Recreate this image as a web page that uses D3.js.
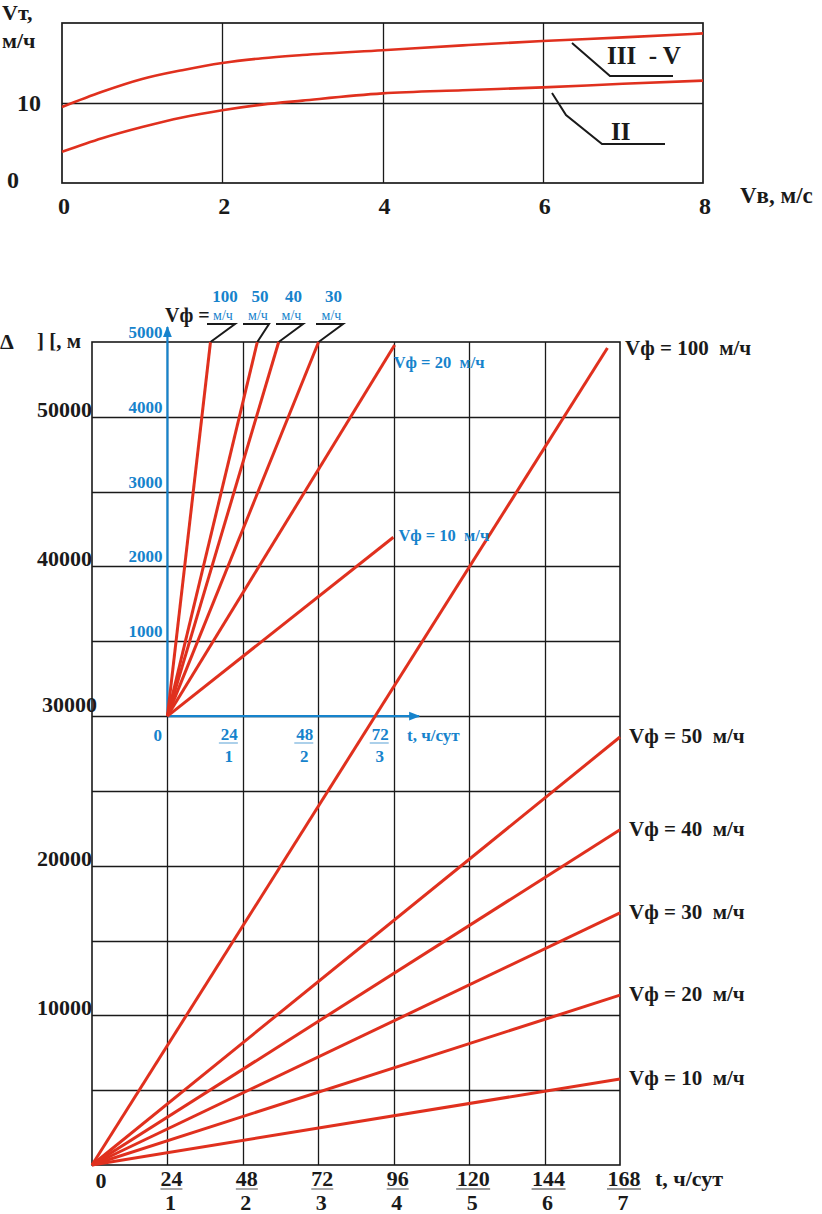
<!DOCTYPE html>
<html>
<head>
<meta charset="utf-8">
<script src="https://cdn.jsdelivr.net/npm/d3@7/dist/d3.min.js"></script>
<style>
  body { margin: 0; background: #fff; }
  svg { display: block; font-family: "Liberation Serif", "DejaVu Serif", serif; font-weight: bold; }
</style>
</head>
<body>
<div id="chart"></div>
<script>
// верхний график: Vт от Vв
var windSpeed = [0, 0.5, 1, 1.5, 2, 2.5, 3, 4, 5, 6, 7, 8];
var curveIIItoV = [9.5, 11.4, 13.0, 14.1, 15.0, 15.6, 16.0, 16.6, 17.2, 17.75, 18.2, 18.7];
var curveII = [3.9, 5.6, 7.0, 8.2, 9.1, 9.8, 10.3, 11.2, 11.6, 11.95, 12.4, 12.8];
var topXTicks = [0, 2, 4, 6, 8];
var topYTicks = [0, 10];

// нижний график: ΔL от t
var speeds = [100, 50, 40, 30, 20, 10];
var mainEndT = [164, 168, 168, 168, 168, 168];
var mainEndL = [54600, 28600, 22400, 16850, 11350, 5750];
var mainXTicks = [24, 48, 72, 96, 120, 144, 168];
var mainDays = [1, 2, 3, 4, 5, 6, 7];
var mainYTicks = [10000, 20000, 30000, 40000, 50000];

// врезка (увеличенный масштаб)
var insetEndT = [13.7, 28.6, 35.4, 48.1, 72.3, 71.9];
var insetEndL = [5000, 5000, 5000, 5000, 4960, 2390];
var insetXTicks = [24, 48, 72];
var insetDays = [1, 2, 3];
var insetYTicks = [1000, 2000, 3000, 4000, 5000];

(function() {
var red = "#e0301e", blue = "#1683cc", black = "#1a1a1a";
// привязка тонких линий к пикселю
var px = function(v) { return Math.round(v) + 0.5; };

var svg = d3.select("#chart").append("svg")
  .attr("width", 822).attr("height", 1214);

var defs = svg.append("defs");
defs.append("marker").attr("id", "arrow")
  .attr("viewBox", "0 0 10 10").attr("refX", 9).attr("refY", 5)
  .attr("markerWidth", 5).attr("markerHeight", 5).attr("orient", "auto")
  .append("path").attr("d", "M0,1L10,5L0,9Z").attr("fill", blue);

//------------------ верхний график
var xT = d3.scaleLinear().domain([0, 8]).range([62, 703]),
  yT = d3.scaleLinear().domain([0, 20]).range([183, 23]);

var upper = svg.append("g");
upper.selectAll(".vgrid").data([2, 4, 6]).enter().append("line")
  .attr("x1", function(d) { return px(xT(d)); }).attr("x2", function(d) { return px(xT(d)); })
  .attr("y1", yT(0)).attr("y2", yT(20))
  .attr("stroke", black).attr("stroke-width", 1.3);
upper.append("line").attr("x1", xT(0)).attr("x2", xT(8))
  .attr("y1", px(yT(10))).attr("y2", px(yT(10)))
  .attr("stroke", black).attr("stroke-width", 1.3);
upper.append("rect").attr("x", xT(0)).attr("y", yT(20))
  .attr("width", xT(8) - xT(0)).attr("height", yT(0) - yT(20))
  .attr("fill", "none").attr("stroke", black).attr("stroke-width", 1.7);

var topLine = d3.line().curve(d3.curveMonotoneX)
  .x(function(d) { return xT(d[0]); }).y(function(d) { return yT(d[1]); });
[curveIIItoV, curveII].forEach(function(c) {
  upper.append("path").attr("d", topLine(d3.zip(windSpeed, c)))
    .attr("fill", "none").attr("stroke", red).attr("stroke-width", 2.6);
});

upper.selectAll(".xl").data(topXTicks).enter().append("text")
  .attr("x", function(d) { return xT(d) + 2; }).attr("y", 214)
  .attr("text-anchor", "middle").attr("font-size", 24).attr("fill", black)
  .text(function(d) { return d; });
upper.append("text").attr("x", 41).attr("y", yT(10) + 8).attr("text-anchor", "end")
  .attr("font-size", 24).attr("fill", black).text("10");
upper.append("text").attr("x", 7).attr("y", yT(0) + 5)
  .attr("font-size", 24).attr("fill", black).text("0");
upper.append("text").attr("x", 2).attr("y", 20).attr("font-size", 22).attr("fill", black)
  .text("Vт,");
upper.append("text").attr("x", 2).attr("y", 48).attr("font-size", 22).attr("fill", black)
  .text("м/ч");
upper.append("text").attr("x", 740).attr("y", 203).attr("font-size", 23).attr("fill", black)
  .text("Vв, м/с");

// выноски III - V и II
var callout = d3.line();
upper.append("path").attr("d", callout([[572, 43], [610, 76], [673, 76]]))
  .attr("fill", "none").attr("stroke", black).attr("stroke-width", 2);
upper.append("path").attr("d", callout([[552, 93], [566, 115], [602, 144], [665, 144]]))
  .attr("fill", "none").attr("stroke", black).attr("stroke-width", 2);
upper.append("text").attr("x", 607).attr("y", 64).attr("font-size", 25).attr("fill", black)
  .attr("xml:space", "preserve").text("III  - V");
upper.append("text").attr("x", 611).attr("y", 140).attr("font-size", 25).attr("fill", black)
  .text("II");

//------------------ нижний график
var xB = d3.scaleLinear().domain([0, 168]).range([92, 620]),
  yB = d3.scaleLinear().domain([0, 55000]).range([1165, 342]);

var grid = svg.append("g");
grid.selectAll(".vg").data(d3.range(24, 168, 24)).enter().append("line")
  .attr("x1", function(d) { return px(xB(d)); }).attr("x2", function(d) { return px(xB(d)); })
  .attr("y1", yB(0)).attr("y2", yB(55000))
  .attr("stroke", black).attr("stroke-width", 1.3);
grid.selectAll(".hg").data(d3.range(5000, 55000, 5000)).enter().append("line")
  .attr("x1", xB(0)).attr("x2", xB(168))
  .attr("y1", function(d) { return px(yB(d)); }).attr("y2", function(d) { return px(yB(d)); })
  .attr("stroke", black).attr("stroke-width", 1.3);
grid.append("rect").attr("x", xB(0)).attr("y", yB(55000))
  .attr("width", xB(168) - xB(0)).attr("height", yB(0) - yB(55000))
  .attr("fill", "none").attr("stroke", black).attr("stroke-width", 1.6);

// врезка: оси
var xI = d3.scaleLinear().domain([0, 168]).range([xB(24), xB(24) + (xB(168) - xB(0))]),
  yI = d3.scaleLinear().domain([0, 5000]).range([yB(30000), yB(55000)]);

var inset = svg.append("g");
inset.append("line").attr("x1", xI(0)).attr("x2", xI(0))
  .attr("y1", yI(0)).attr("y2", yI(0) - 389)
  .attr("stroke", blue).attr("stroke-width", 2.2).attr("marker-end", "url(#arrow)");
inset.append("line").attr("x1", xI(0)).attr("x2", 419)
  .attr("y1", yI(0)).attr("y2", yI(0))
  .attr("stroke", blue).attr("stroke-width", 2.2).attr("marker-end", "url(#arrow)");

// линии основного графика
svg.append("g").selectAll(".ml").data(speeds).enter().append("line")
  .attr("x1", xB(0)).attr("y1", yB(0))
  .attr("x2", function(d, i) { return xB(mainEndT[i]); })
  .attr("y2", function(d, i) { return yB(mainEndL[i]); })
  .attr("stroke", red).attr("stroke-width", 3);

// линии врезки
svg.append("g").selectAll(".il").data(speeds).enter().append("line")
  .attr("x1", xI(0)).attr("y1", yI(0))
  .attr("x2", function(d, i) { return xI(insetEndT[i]); })
  .attr("y2", function(d, i) { return yI(insetEndL[i]); })
  .attr("stroke", red).attr("stroke-width", 3);

// подписи основных линий
svg.append("g").selectAll(".mlab").data(speeds).enter().append("text")
  .attr("x", function(d, i) { return i === 0 ? 625 : xB(168) + 9; })
  .attr("y", function(d, i) { return yB(mainEndL[i]) + (i === 0 ? 7 : 6); })
  .attr("font-size", 21).attr("fill", black).attr("xml:space", "preserve")
  .text(function(d) { return "Vф = " + d + "  м/ч"; });

// подписи оси Y основного графика
svg.append("g").selectAll(".yl").data(mainYTicks).enter().append("text")
  .attr("x", function(d) { return d === 30000 ? 97 : 92; })
  .attr("y", function(d) { return yB(d) - (d === 30000 ? 4 : 0); })
  .attr("text-anchor", "end").attr("font-size", 22).attr("fill", black)
  .text(function(d) { return d; });
svg.append("text").attr("x", 0).attr("y", 349).attr("font-size", 22).attr("fill", black)
  .text("Δ");
svg.append("text").attr("x", 37).attr("y", 348).attr("font-size", 21).attr("fill", black)
  .text("] [, м");

// подписи оси X основного графика
var xl = svg.append("g");
xl.append("text").attr("x", xB(0) + 9).attr("y", 1188).attr("text-anchor", "middle")
  .attr("font-size", 22).attr("fill", black).text("0");
xl.selectAll(".xn").data(mainXTicks).enter().append("text")
  .attr("x", function(d) { return xB(d) + 4; }).attr("y", 1186)
  .attr("text-anchor", "middle").attr("font-size", 22).attr("fill", black)
  .text(function(d) { return d; });
xl.selectAll(".xu").data(mainXTicks).enter().append("line")
  .attr("x1", function(d) { return xB(d) + 4 - (d >= 100 ? 17 : 11); })
  .attr("x2", function(d) { return xB(d) + 4 + (d >= 100 ? 17 : 11); })
  .attr("y1", 1189).attr("y2", 1189).attr("stroke", "#777").attr("stroke-width", 1.3);
xl.selectAll(".xd").data(mainDays).enter().append("text")
  .attr("x", function(d, i) { return xB(mainXTicks[i]) + 3; }).attr("y", 1210)
  .attr("text-anchor", "middle").attr("font-size", 22).attr("fill", black)
  .text(function(d) { return d; });
xl.append("text").attr("x", 655).attr("y", 1186).attr("font-size", 22).attr("fill", black)
  .text("t, ч/сут");

// подписи врезки
var il = svg.append("g").attr("fill", blue);
il.selectAll(".iy").data(insetYTicks).enter().append("text")
  .attr("x", xI(0) - 5).attr("y", function(d) { return yI(d) - 4; })
  .attr("text-anchor", "end").attr("font-size", 17)
  .text(function(d) { return d; });
il.append("text").attr("x", 162).attr("y", 741).attr("text-anchor", "end")
  .attr("font-size", 17).text("0");
il.selectAll(".ixn").data(insetXTicks).enter().append("text")
  .attr("x", function(d) { return xI(d) - 5; }).attr("y", 740)
  .attr("text-anchor", "end").attr("font-size", 17)
  .text(function(d) { return d; });
il.selectAll(".ixu").data(insetXTicks).enter().append("line")
  .attr("x1", function(d) { return xI(d) - 24; }).attr("x2", function(d) { return xI(d) - 5; })
  .attr("y1", 743).attr("y2", 743).attr("stroke", "#7fb6df").attr("stroke-width", 1.3);
il.selectAll(".ixd").data(insetDays).enter().append("text")
  .attr("x", function(d, i) { return xI(insetXTicks[i]) - 14; }).attr("y", 762)
  .attr("text-anchor", "middle").attr("font-size", 17)
  .text(function(d) { return d; });
il.append("text").attr("x", 407).attr("y", 741).attr("font-size", 17).text("t, ч/сут");
il.append("text").attr("x", xI(insetEndT[4]) - 1).attr("y", yI(insetEndL[4]) + 23)
  .attr("font-size", 16.5).attr("xml:space", "preserve").text("Vф = 20  м/ч");
il.append("text").attr("x", xI(insetEndT[5]) + 5).attr("y", yI(insetEndL[5]) + 4)
  .attr("font-size", 16.5).attr("xml:space", "preserve").text("Vф = 10  м/ч");

// выноски сверху врезки (100, 50, 40, 30)
var leadLeft = [207, 243, 276, 316], leadRight = [235, 269, 303, 343];
var lead = svg.append("g");
svg.append("text").attr("x", 165).attr("y", 322).attr("font-size", 20).attr("fill", black)
  .text("Vф =");
speeds.slice(0, 4).forEach(function(v, i) {
  var ex = xI(insetEndT[i]), ey = yI(insetEndL[i]);
  lead.append("path")
    .attr("d", callout([[leadLeft[i], 324], [leadRight[i], 324], [ex, ey]]))
    .attr("fill", "none").attr("stroke", black).attr("stroke-width", 2);
  var cx = (leadLeft[i] + leadRight[i]) / 2 + 2;
  il.append("text").attr("x", cx + 2).attr("y", 302).attr("text-anchor", "middle")
    .attr("font-size", 17).text(v);
  il.append("text").attr("x", cx).attr("y", 320).attr("text-anchor", "middle")
    .attr("font-size", 14).attr("font-weight", "normal").text("м/ч");
});
})();
</script>
</body>
</html>
